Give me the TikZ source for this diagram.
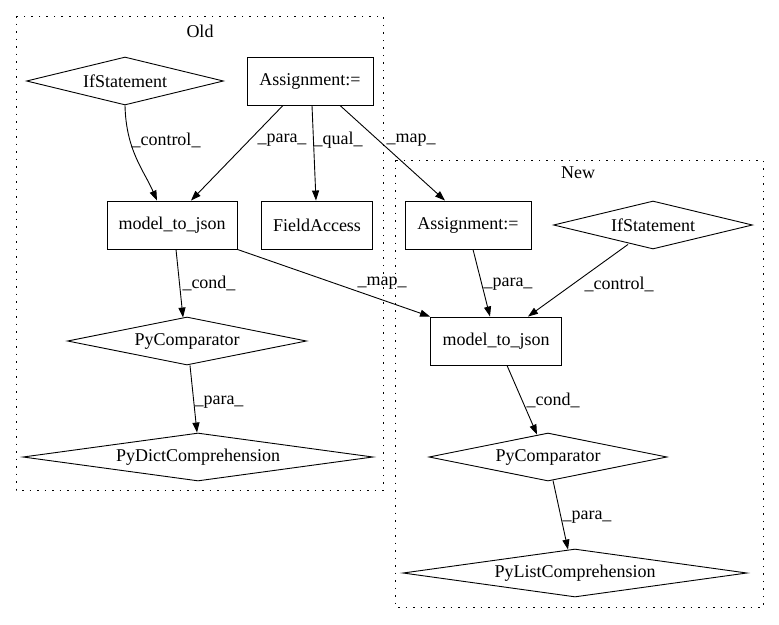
\documentclass[tikz,border=0pt]{standalone}
\usepackage{fontspec}
\setmainfont{Liberation Serif}
\usetikzlibrary{shapes.geometric,arrows.meta,calc}
\begin{document}
\begin{tikzpicture}[x=1pt,y=-1pt,
 box/.style={draw,line width=0.9pt,minimum height=48pt,inner sep=0pt},
 dia/.style={draw,diamond,aspect=8,inner sep=0pt,line width=0.9pt,minimum height=48pt},
 edge/.style={draw,line width=0.9pt,-{Triangle[length=10pt,width=7pt]}},
 lbl/.style={inner sep=0pt},
 cluster/.style={draw,line width=0.9pt,dash pattern=on 1.5pt off 6pt},
 font=\fontsize{18}{20}\selectfont]
\useasboundingbox (0,0) rectangle (779,624);
% clusters
\draw[cluster] (16,16) rectangle (383,490);
\draw[cluster] (395,160) rectangle (763,607);
\node (oldlbl) at (200,31) {Old};
\node (newlbl) at (578,173) {New};
% nodes
\node[dia,minimum width=197pt] (ifold) at (125,81) {IfStatement};
\node[box,minimum width=126pt] (aold) at (310,81) {Assignment:=};
\node[box,minimum width=130pt] (mold) at (172,225) {model\_to\_json};
\node[box,minimum width=111pt] (fa) at (317,225) {FieldAccess};
\node[dia,minimum width=239pt] (pcold) at (187,341) {PyComparator};
\node[dia,minimum width=350pt] (pdc) at (198,457) {PyDictComprehension};
\node[box,minimum width=126pt] (anew) at (468,225) {Assignment:=};
\node[dia,minimum width=199pt] (ifnew) at (653,225) {IfStatement};
\node[box,minimum width=131pt] (mnew) at (496,341) {model\_to\_json};
\node[dia,minimum width=238pt] (pcnew) at (548,457) {PyComparator};
\node[dia,minimum width=344pt] (plc) at (575,573) {PyListComprehension};
% edges
\draw[edge] (ifold.south) .. controls ($(ifold.south)+(1,45)$) and ($(mold.north)+(-28,-30)$) .. ($(mold.north)+(-15,0)$);
\draw[edge] ($(aold.south)+(-27,0)$) -- ($(mold.north)+(19,0)$);
\draw[edge] ($(aold.south)+(2,0)$) -- ($(fa.north)+(-1,0)$);
\draw[edge] ($(aold.south)+(30,0)$) -- ($(anew.north)+(-23,0)$);
\draw[edge] ($(mold.south)+(4,0)$) -- ($(pcold.north)+(-4,1)$);
\draw[edge] (mold.south east) -- (mnew.north west);
\draw[edge] ($(pcold.south)+(3,0)$) -- ($(pdc.north)+(-1,0)$);
\draw[edge] ($(anew.south)+(5,0)$) -- ($(mnew.north)+(-6,0)$);
\draw[edge] ($(ifnew.south)+(-25,-5)$) -- ($(mnew.north)+(32,0)$);
\draw[edge] ($(mnew.south)+(11,0)$) -- ($(pcnew.north)+(-11,2)$);
\draw[edge] ($(pcnew.south)+(5,-1)$) -- ($(plc.north)+(-7,1)$);
% labels
\node[lbl] (l1) at (166,140) {\_control\_};
\node[lbl] (l2) at (282,140) {\_para\_};
\node[lbl] (l3) at (338,140) {\_qual\_};
\node[lbl] (l4) at (411,140) {\_map\_};
\node[lbl] (l5) at (209,283) {\_cond\_};
\node[lbl] (l6) at (382,283) {\_map\_};
\node[lbl] (l7) at (219,402) {\_para\_};
\node[lbl] (l8) at (508,284) {\_para\_};
\node[lbl] (l9) at (619,284) {\_control\_};
\node[lbl] (l10) at (553,400) {\_cond\_};
\node[lbl] (l11) at (587,517) {\_para\_};
\end{tikzpicture}
\end{document}
